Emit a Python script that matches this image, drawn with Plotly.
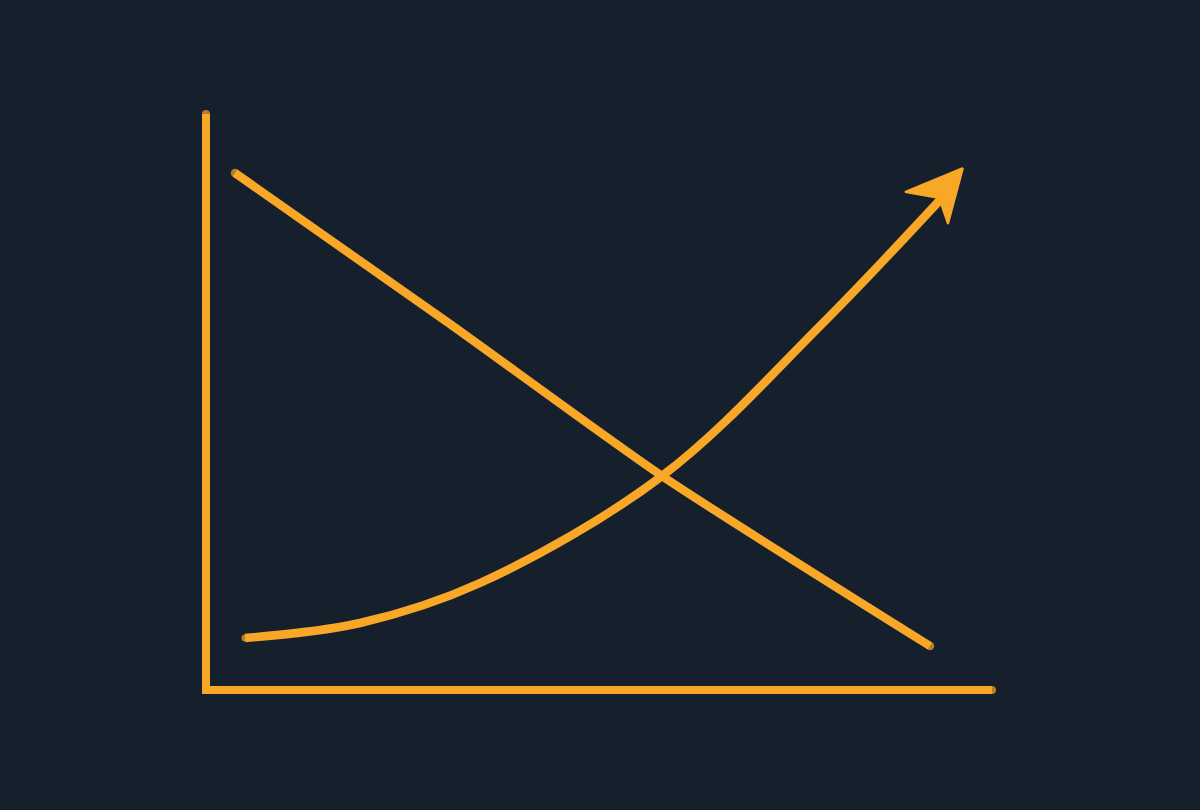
import plotly.graph_objects as go

# values (origin at the axis corner, units ~ pixels)
axis_x = [0, 0, 786]
axis_y = [576, 0, 0]

falling_x = [29, 244, 456, 724]
falling_y = [517, 366, 214, 44]

rising_x = [39, 154, 274, 456, 614, 734]
rising_y = [52, 67, 107, 214, 364, 490]

head_x = [757, 699, 733, 742, 757]
head_y = [522, 498, 492, 466, 522]

ORANGE = '#F8A826'
BG = '#16202D'

def caps(n, s=8):
    return [s] + [0] * (n - 2) + [s]

fig = go.Figure()

fig.add_trace(go.Scatter(x=axis_x, y=axis_y, mode='lines+markers',
                         line=dict(color=ORANGE, width=8),
                         marker=dict(color=ORANGE, size=caps(len(axis_x), 8), line=dict(width=0))))

fig.add_trace(go.Scatter(x=falling_x, y=falling_y, mode='lines+markers',
                         line=dict(color=ORANGE, width=8.5, shape='spline', smoothing=0.6),
                         marker=dict(color=ORANGE, size=caps(len(falling_x), 8.5), line=dict(width=0))))

fig.add_trace(go.Scatter(x=rising_x, y=rising_y, mode='lines+markers',
                         line=dict(color=ORANGE, width=8.5, shape='spline'),
                         marker=dict(color=ORANGE, size=[7] + [0] * (len(rising_x) - 1), line=dict(width=0))))

fig.add_trace(go.Scatter(x=head_x, y=head_y, mode='lines', fill='toself',
                         fillcolor=ORANGE, line=dict(color=ORANGE, width=2)))

fig.update_layout(width=1200, height=810,
                  margin=dict(l=0, r=0, t=0, b=0),
                  paper_bgcolor=BG, plot_bgcolor=BG,
                  showlegend=False,
                  xaxis=dict(range=[-206, 994], visible=False, fixedrange=True),
                  yaxis=dict(range=[-120, 690], visible=False, fixedrange=True))

fig.write_html("out.html", config=dict(displayModeBar=False),
               post_script="document.body.style.margin='0';document.body.style.background='#16202D';")
